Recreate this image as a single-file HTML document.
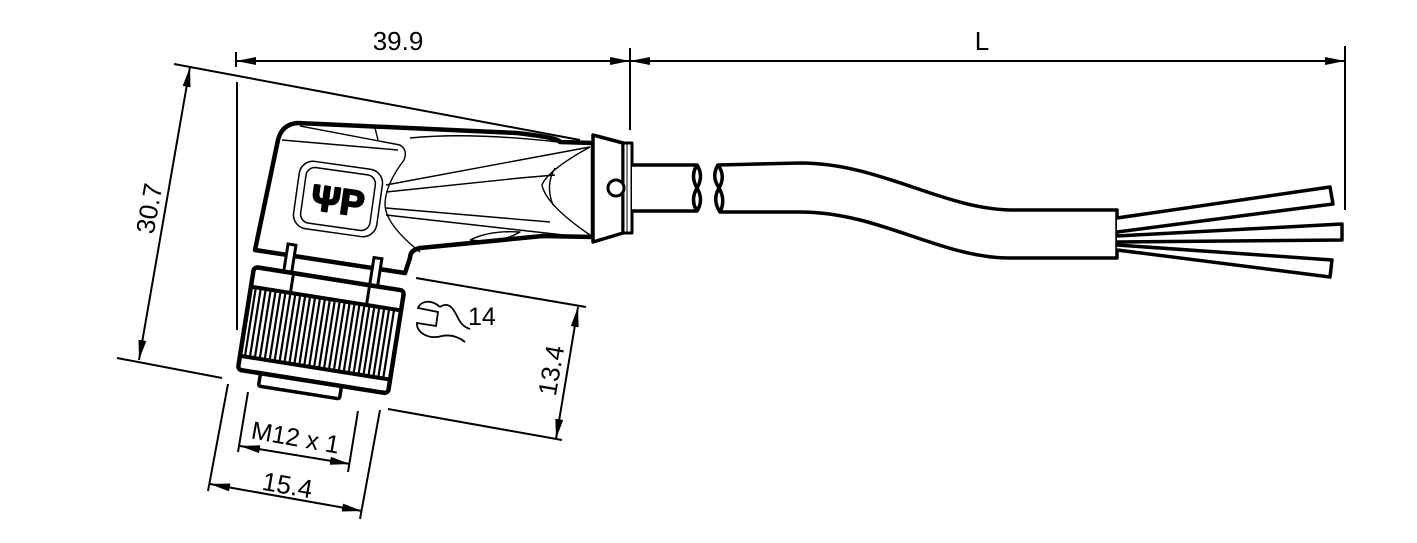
<!DOCTYPE html>
<html><head><meta charset="utf-8"><style>
html,body{margin:0;padding:0;background:#fff;}
svg{display:block;}
text{font-family:"Liberation Sans",sans-serif;fill:#000;}
</style></head><body>
<svg width="1417" height="543" viewBox="0 0 1417 543" xmlns="http://www.w3.org/2000/svg">
<defs>
<marker id="a" viewBox="0 0 20 8" refX="20" refY="4" markerWidth="20" markerHeight="8" markerUnits="userSpaceOnUse" orient="auto-start-reverse"><path d="M0,0 L20,4 L0,8 z" fill="#000"/></marker>
</defs>
<g stroke="#000" fill="none" stroke-width="2">
<line x1="236" y1="61" x2="630" y2="61" marker-start="url(#a)" marker-end="url(#a)"/>
<line x1="630" y1="61" x2="1345" y2="61" marker-start="url(#a)" marker-end="url(#a)"/>
<line x1="236" y1="52" x2="236" y2="67"/>
<line x1="630" y1="48" x2="630" y2="130"/>
<line x1="1345" y1="46" x2="1345" y2="210"/>
<line x1="237" y1="82" x2="237" y2="330"/>
<line x1="174" y1="64" x2="580" y2="140"/>
<line x1="117" y1="358" x2="222" y2="378"/>
<line x1="190" y1="67" x2="139" y2="360" marker-start="url(#a)" marker-end="url(#a)"/>
<line x1="416" y1="278" x2="586" y2="307"/>
<line x1="388" y1="409" x2="562" y2="440"/>
<line x1="578" y1="307" x2="556" y2="439" marker-start="url(#a)" marker-end="url(#a)"/>
<line x1="228" y1="384" x2="208" y2="491"/>
<line x1="380" y1="410" x2="360" y2="519"/>
<line x1="210" y1="484" x2="362" y2="511" marker-start="url(#a)" marker-end="url(#a)"/>
<line x1="248" y1="392" x2="238" y2="452"/>
<line x1="358" y1="411" x2="348" y2="472"/>
<line x1="240" y1="446" x2="350" y2="464" marker-start="url(#a)" marker-end="url(#a)"/>
<path d="M440,307 C430,298 420,302 418,308 L438,312 L436,326 L417,323 C416,332 428,340 442,336 C452,334 460,338 465,342" stroke-width="1.8"/>
<path d="M440,307 C450,300 455,312 458,318 C461,324 464,327 470,329" stroke-width="1.8"/>
</g>
<text x="398" y="50" font-size="26" text-anchor="middle">39.9</text>
<text x="982" y="50" font-size="26" text-anchor="middle">L</text>
<text x="468" y="325" font-size="25">14</text>
<text font-size="26" text-anchor="middle" transform="translate(158,210) rotate(-80)">30.7</text>
<text font-size="26" text-anchor="middle" transform="translate(560,372) rotate(-80)">13.4</text>
<text font-size="25" text-anchor="middle" transform="translate(294,446) rotate(10)">M12 x 1</text>
<text font-size="26" text-anchor="middle" transform="translate(286,494) rotate(10)">15.4</text>

<g stroke="#000" fill="#fff" stroke-linejoin="round">
<path d="M278,140 Q282,124 298,123 L517,133 Q560,138 560,142 L593,143 L593,237 L543,236 L420,248 Q410,250 410,258 L405,273 L255,250 Z" stroke-width="4.5"/>
<g fill="none" stroke-width="1.4">
<path d="M282,140 L398,150"/>
<path d="M300,126 L400,145 Q408,150 404,160 Q385,185 385,205 Q386,225 420,252"/>
<path d="M410,138 Q470,132 558,142"/>
<path d="M386,185 L590,147"/>
<path d="M386,192 L520,178 L555,175"/>
<path d="M386,208 L550,222"/>
<path d="M386,215 L590,238"/>
<path d="M590,147 Q548,170 542,185 Q546,205 590,235"/>
<path d="M555,168 Q545,185 553,205"/>
<path d="M470,240 Q490,230 520,232 Q500,244 470,240"/>
<path d="M375,128 L378,140"/>
</g>
<rect x="296" y="165" width="84" height="68" rx="14" transform="rotate(8,338,199)" fill="none" stroke-width="1.5"/>
<rect x="303" y="171" width="70" height="56" rx="9" transform="rotate(8,338,199)" fill="none" stroke-width="1.5"/>
<text x="338" y="213" font-size="36" font-weight="bold" text-anchor="middle" transform="rotate(8,338,199)" fill="#fff" stroke="#000" stroke-width="2">ΨP</text>
<path d="M593,135 L623,143 L623,233 L593,242 Z" stroke-width="3.5"/>
<rect x="623" y="143" width="9" height="90" stroke-width="3"/>
<line x1="627" y1="143" x2="627" y2="233" stroke-width="1"/>
<circle cx="616" cy="188" r="8" stroke-width="3"/>
</g>

<g transform="rotate(9,320,330)" stroke="#000" fill="#fff">
<rect x="275" y="250" width="8" height="35" stroke-width="3"/>
<rect x="362" y="250" width="8" height="35" stroke-width="3"/>
<rect x="268" y="380" width="82" height="15" rx="2" stroke-width="3.5"/>
<rect x="245" y="278" width="152" height="104" rx="4" stroke-width="4.5"/>
<line x1="245" y1="298" x2="397" y2="298" stroke-width="4"/>
<line x1="245" y1="368" x2="397" y2="368" stroke-width="4"/>
<line x1="285" y1="278" x2="285" y2="298" stroke-width="3"/>
<line x1="362" y1="278" x2="362" y2="298" stroke-width="3"/>
<g stroke-width="2.2">
<path d="M250,298V368M255,298V368M260,298V368M265,298V368M270,298V368M275,298V368M280,298V368M285,298V368M290,298V368M295,298V368M300,298V368M305,298V368M310,298V368M315,298V368M320,298V368M325,298V368M330,298V368M335,298V368M340,298V368M345,298V368M350,298V368M355,298V368M360,298V368M365,298V368M370,298V368M375,298V368M380,298V368M385,298V368M390,298V368"/>
</g>
</g>

<g stroke="#000" fill="#fff" stroke-width="3.5" stroke-linejoin="round">
<path d="M632,165 L697,165 Q690,176 697,188 Q704,200 697,211 L632,211"/>
<path d="M697,165 Q704,176 697,188 Q690,200 697,211" fill="none"/>
<path d="M718,165 L800,163 C880,163 940,208 1010,210 L1117,210 L1117,258 L1010,258 C940,258 880,212 800,212 L720,212 Q712,200 719,188 Q726,176 718,165 Z"/>
<path d="M718,165 Q711,176 719,188 Q726,200 720,212" fill="none"/>
<path d="M1117,218 L1330,187 L1333,204 L1117,232"/>
<path d="M1117,236 L1342,224 L1342,240 L1117,242"/>
<path d="M1117,245 L1332,260 L1330,277 L1117,250"/>
</g>
</svg>
</body></html>
